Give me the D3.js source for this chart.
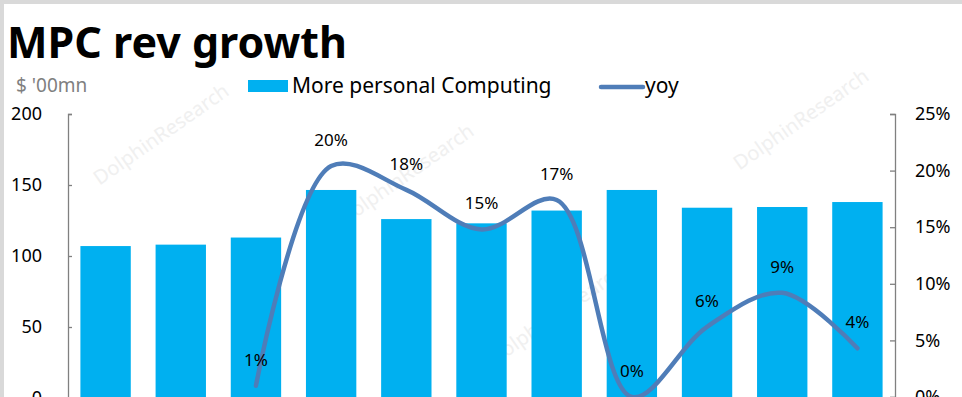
<!DOCTYPE html>
<html>
<head>
<meta charset="utf-8">
<script src="https://cdn.jsdelivr.net/npm/d3@7"></script>
<style>
  html, body { margin: 0; padding: 0; background: #fff; }
  svg { display: block; font-family: "Noto Sans", "Open Sans", sans-serif; }
</style>
</head>
<body>
<div id="chartdiv"></div>
<script>
// data
const categories = ["P1", "P2", "P3", "P4", "P5", "P6", "P7", "P8", "P9", "P10", "P11"];
const mpcRevenue = [107, 108, 113, 146.5, 126, 123, 132, 146.5, 134, 134.5, 138];
const yoyGrowth = [null, null, 1.0, 20.4, 18.3, 14.8, 17.4, 0.0, 6.2, 9.2, 4.3];
const leftTicks = [0, 50, 100, 150, 200];
const rightTicks = [0, 5, 10, 15, 20, 25];

const W = 962, H = 397;
const margin = { top: 114, right: 67, bottom: -1, left: 68 };
const width = W - margin.left - margin.right;
const height = H - margin.top - margin.bottom;

const svg = d3.select("#chartdiv").append("svg")
  .attr("width", W)
  .attr("height", H);

// frame edge of the screenshot
svg.append("rect").attr("x", 0).attr("y", 0).attr("width", W).attr("height", 4).attr("fill", "#d9d9d9");
svg.append("rect").attr("x", 0).attr("y", 0).attr("width", 4).attr("height", H).attr("fill", "#d9d9d9");

// watermarks
const marks = [[165, 140], [410, 180], [805, 125], [560, 320]];
svg.selectAll(".wm")
  .data(marks)
  .enter().append("text")
  .attr("class", "wm")
  .attr("transform", d => "translate(" + d[0] + "," + d[1] + ") rotate(-35)")
  .attr("text-anchor", "middle")
  .attr("font-size", 20)
  .attr("fill", "#f0f0f0")
  .text("DolphinResearch");

const g = svg.append("g")
  .attr("transform", "translate(" + margin.left + "," + margin.top + ")");

const x = d3.scaleBand().domain(categories).range([0, width]).paddingInner(0.33).paddingOuter(0.165);
const y = d3.scaleLinear().domain([0, 200]).range([height, 0]);
const y2 = d3.scaleLinear().domain([0, 25]).range([height - 1, 0]);

// bars
g.selectAll(".bar")
  .data(mpcRevenue)
  .enter().append("rect")
  .attr("class", "bar")
  .attr("x", (d, i) => x(categories[i]))
  .attr("width", x.bandwidth())
  .attr("y", d => y(d))
  .attr("height", d => height - y(d))
  .attr("fill", "#00b0f0");

// axes
const yAxis = d3.axisLeft(y).tickValues(leftTicks).tickSize(-4).tickPadding(26);
const yAxisR = d3.axisRight(y2).tickValues(rightTicks).tickSize(-5).tickPadding(20).tickFormat(d => d + "%");

const ga = g.append("g").call(yAxis);
ga.selectAll("path, line").attr("stroke", "#808080").attr("stroke-width", 1.3);
ga.selectAll("text").attr("font-size", 18).attr("fill", "#000").attr("font-family", "Noto Sans");

const gr = g.append("g").attr("transform", "translate(" + width + ",0)").call(yAxisR);
gr.selectAll("path, line").attr("stroke", "#808080").attr("stroke-width", 1.3);
gr.selectAll("text").attr("font-size", 18).attr("fill", "#000").attr("font-family", "Noto Sans");

// yoy line
const pts = yoyGrowth.map((v, i) => ({ c: categories[i], v: v })).filter(d => d.v !== null);
const line = d3.line()
  .x(d => x(d.c) + x.bandwidth() / 2)
  .y(d => y2(d.v))
  .curve(d3.curveCatmullRom.alpha(0.5));

g.append("path")
  .datum(pts)
  .attr("fill", "none")
  .attr("stroke", "#4f7db8")
  .attr("stroke-width", 4.5)
  .attr("stroke-linecap", "round")
  .attr("d", line);

g.selectAll(".lbl")
  .data(pts)
  .enter().append("text")
  .attr("class", "lbl")
  .attr("x", d => x(d.c) + x.bandwidth() / 2)
  .attr("y", d => y2(d.v) - 20)
  .attr("text-anchor", "middle")
  .attr("font-size", 17)
  .attr("fill", "#000")
  .text(d => Math.round(d.v) + "%");

// title and units
svg.append("text")
  .attr("x", 7).attr("y", 58)
  .attr("font-size", 43)
  .attr("font-weight", "bold")
  .attr("fill", "#000")
  .text("MPC rev growth");

svg.append("text")
  .attr("x", 16).attr("y", 92)
  .attr("font-size", 19)
  .attr("fill", "#7f7f7f")
  .text("$ '00mn");

// legend
svg.append("rect")
  .attr("x", 248).attr("y", 80).attr("width", 40).attr("height", 12)
  .attr("fill", "#00b0f0");
svg.append("text")
  .attr("x", 292).attr("y", 93)
  .attr("font-size", 21)
  .attr("fill", "#000")
  .text("More personal Computing");

svg.append("line")
  .attr("x1", 601).attr("x2", 643).attr("y1", 87).attr("y2", 87)
  .attr("stroke", "#4f7db8").attr("stroke-width", 4.5).attr("stroke-linecap", "round");
svg.append("text")
  .attr("x", 645).attr("y", 93)
  .attr("font-size", 21)
  .attr("fill", "#000")
  .text("yoy");
</script>
</body>
</html>
